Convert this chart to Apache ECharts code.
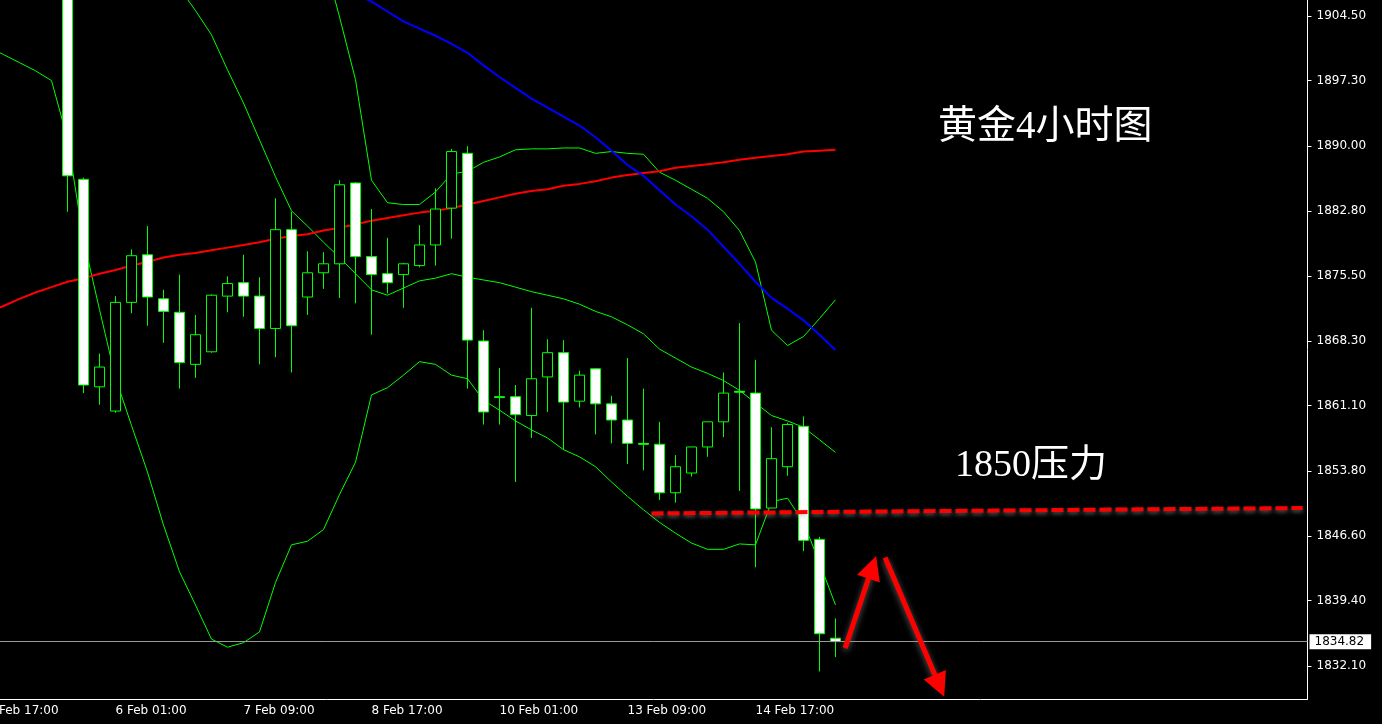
<!DOCTYPE html>
<html>
<head>
<meta charset="utf-8">
<title>黄金4小时图</title>
<script src="https://cdn.jsdelivr.net/npm/echarts@6/dist/echarts.min.js"></script>
<style>
  html, body { margin: 0; padding: 0; background: #000; }
  #gold_chart { width: 1382px; height: 724px; }
</style>
</head>
<body>
<div id="gold_chart"></div>
<script>
// 4 小时 K 线时间 (周末无数据)
const hours = ['01:00', '05:00', '09:00', '13:00', '17:00', '21:00'];
const fullDays = ['3 Feb', '6 Feb', '7 Feb', '8 Feb', '9 Feb', '10 Feb', '13 Feb', '14 Feb'];
const barTimes = ['2 Feb 17:00', '2 Feb 21:00']
  .concat(...fullDays.map(d => hours.map(h => d + ' ' + h)))
  .concat(['15 Feb 01:00', '15 Feb 05:00', '15 Feb 09:00', '15 Feb 13:00']);
const futureSlots = 29;

// [open, close, low, high]; 前 5 根在图表上方，看不到
const candles = [
  null, null, null, null, null,
  [1912.5, 1886.7, 1882.7, 1914.0],
  [1886.3, 1863.4, 1862.5, 1886.5],
  [1863.2, 1865.4, 1861.2, 1866.9],
  [1860.5, 1872.6, 1860.3, 1873.3],
  [1872.6, 1877.8, 1871.4, 1878.5],
  [1877.9, 1873.2, 1870.0, 1881.1],
  [1873.0, 1871.6, 1868.1, 1874.0],
  [1871.5, 1865.9, 1863.0, 1875.7],
  [1865.7, 1869.0, 1864.2, 1871.2],
  [1867.1, 1873.4, 1867.0, 1873.5],
  [1873.3, 1874.7, 1871.5, 1875.5],
  [1874.8, 1873.3, 1871.0, 1877.9],
  [1873.3, 1869.7, 1865.7, 1875.4],
  [1869.7, 1880.7, 1866.5, 1884.2],
  [1880.7, 1870.0, 1864.8, 1882.7],
  [1873.2, 1875.9, 1871.2, 1878.3],
  [1875.9, 1876.9, 1874.1, 1878.2],
  [1876.9, 1885.7, 1873.1, 1886.2],
  [1885.9, 1877.7, 1872.5, 1886.0],
  [1877.7, 1875.7, 1869.0, 1883.0],
  [1875.8, 1874.8, 1873.6, 1879.8],
  [1875.7, 1876.9, 1872.0, 1877.0],
  [1876.7, 1879.0, 1876.5, 1881.2],
  [1879.0, 1883.0, 1876.7, 1885.3],
  [1883.1, 1889.4, 1879.7, 1889.7],
  [1889.2, 1868.4, 1863.0, 1890.0],
  [1868.3, 1860.4, 1859.0, 1869.5],
  [1862.1, 1862.0, 1859.0, 1865.3],
  [1862.1, 1860.1, 1852.6, 1863.4],
  [1860.0, 1864.1, 1857.5, 1872.0],
  [1864.3, 1867.0, 1860.4, 1868.5],
  [1867.0, 1861.5, 1856.2, 1868.4],
  [1861.6, 1864.5, 1860.9, 1865.0],
  [1865.2, 1861.3, 1857.9, 1865.3],
  [1861.3, 1859.5, 1856.9, 1862.2],
  [1859.5, 1856.9, 1854.6, 1866.4],
  [1856.9, 1856.8, 1853.9, 1863.0],
  [1856.8, 1851.4, 1850.6, 1859.3],
  [1851.4, 1854.3, 1850.3, 1855.6],
  [1853.6, 1856.5, 1853.2, 1856.5],
  [1856.5, 1859.3, 1855.4, 1859.3],
  [1859.3, 1862.5, 1857.6, 1864.8],
  [1862.7, 1862.6, 1851.6, 1870.3],
  [1862.5, 1849.6, 1843.1, 1866.2],
  [1849.7, 1855.2, 1849.7, 1858.7],
  [1854.3, 1859.0, 1853.3, 1859.2],
  [1858.8, 1846.1, 1844.9, 1859.9],
  [1846.2, 1835.7, 1831.5, 1846.5],
  [1835.2, 1834.82, 1833.1, 1837.4]
];

// 均线 (红 / 蓝)
const maRed = [
  1871.5, 1872.2, 1873.0, 1873.7, 1874.3, 1874.9, 1875.3, 1875.8, 1876.2, 1876.7,
  1877.1, 1877.6, 1877.9, 1878.1, 1878.4, 1878.7, 1879.0, 1879.3, 1879.7, 1880.0,
  1880.2, 1880.6, 1880.9, 1881.3, 1881.7, 1882.0, 1882.3, 1882.6, 1882.8, 1883.1,
  1883.5, 1883.9, 1884.3, 1884.7, 1885.0, 1885.2, 1885.6, 1885.8, 1886.1, 1886.5,
  1886.8, 1887.0, 1887.2, 1887.6, 1887.8, 1888.0, 1888.2, 1888.5, 1888.7, 1888.9,
  1889.1, 1889.4, 1889.5, 1889.6
];
const maBlue = [
  null, null, null, null, null, null, null, null, null, null,
  null, null, null, null, null, null, null, null, null, null,
  null, null, 1908.0, 1907.0, 1906.1, 1905.0, 1903.9, 1903.1, 1902.3, 1901.4,
  1900.4, 1899.0, 1897.7, 1896.5, 1895.3, 1894.3, 1893.3, 1892.3, 1891.0, 1889.5,
  1887.9, 1886.7, 1885.1, 1883.5, 1882.2, 1880.7, 1878.8, 1876.9, 1874.9, 1873.1,
  1871.9, 1870.6, 1869.0, 1867.3
];

// 布林带
const bollUpper = [
  null, null, null, null, null, null, null, null, null, null,
  null, null, null, null, null, null, null, null, null, null,
  1917.4, 1911.1, 1904.4, 1897.4, 1886.2, 1883.7, 1883.5, 1883.5, 1884.9, 1886.9,
  1887.2, 1888.2, 1888.8, 1889.6, 1889.7, 1889.7, 1889.8, 1889.8, 1889.2, 1889.4,
  1889.2, 1889.1, 1887.1, 1886.2, 1885.2, 1884.2, 1882.7, 1880.6, 1877.1, 1869.5,
  1867.8, 1868.8, 1870.8, 1872.9
];
const bollMiddle = [
  null, null, null, null, null, null, null, null, null, null,
  1913.0, 1910.3, 1907.6, 1905.1, 1902.4, 1898.5, 1894.8, 1890.7, 1886.6, 1882.8,
  1881.1, 1879.3, 1877.6, 1875.8, 1874.0, 1873.4, 1874.2, 1875.0, 1875.3, 1875.8,
  1875.4, 1875.1, 1874.8, 1874.3, 1873.8, 1873.4, 1873.0, 1872.4, 1871.6, 1871.0,
  1870.1, 1869.1, 1867.4, 1866.4, 1865.4, 1864.7, 1863.9, 1862.8, 1861.4, 1860.0,
  1859.4, 1858.7, 1857.3, 1855.9
];
const bollLower = [
  1901.1, 1900.2, 1899.3, 1898.4, 1897.3, 1890.8, 1879.6, 1871.8, 1864.2, 1858.9,
  1853.7, 1847.8, 1842.6, 1838.9, 1835.1, 1834.2, 1834.7, 1835.9, 1841.4, 1845.6,
  1846.0, 1847.3, 1851.2, 1854.8, 1862.3, 1863.1, 1864.5, 1866.0, 1865.7, 1864.5,
  1864.1, 1861.7, 1860.6, 1859.4, 1858.4, 1857.5, 1856.2, 1855.4, 1854.3, 1852.6,
  1851.0, 1849.5, 1848.1, 1846.9, 1845.8, 1845.1, 1845.1, 1845.7, 1845.6, 1850.4,
  1850.8, 1848.1, 1843.6, 1838.9
];

const priceTicks = [1832.10, 1839.40, 1846.60, 1853.80, 1861.10, 1868.30, 1875.50, 1882.80, 1890.00, 1897.30, 1904.50];
const lastPrice = 1834.82;

// 手画的标注, [bar 序号, 价格]
const pressureLine = [[41.5, 1849.1], [82.2, 1849.7]];
const arrowUp = [[53.6, 1834.1], [55.3, 1843.1]];
const arrowDown = [[56.1, 1844.2], [59.5, 1829.9]];

const slotCount = barTimes.length + futureSlots;
const categories = barTimes.concat(new Array(futureSlots).fill(''));
const gap = v => (v == null ? '-' : v);
const showTime = idx => idx % 8 === 0 && idx < barTimes.length;

const myChart = echarts.init(document.getElementById('gold_chart'));

const option = {
  backgroundColor: '#000',
  animation: false,
  grid: {
    left: -20.5, top: 0, width: slotCount * 16, height: 699,
    outerBoundsMode: 'none', containLabel: false
  },
  xAxis: [
    {
      type: 'category',
      data: categories,
      boundaryGap: true,
      axisLine: { onZero: false, lineStyle: { color: '#fff', width: 1 } },
      axisTick: { alignWithLabel: true, interval: showTime, length: 4, lineStyle: { color: '#fff' } },
      axisLabel: {
        interval: showTime,
        align: 'left',
        margin: 6,
        color: '#fff',
        fontSize: 12,
        fontFamily: 'DejaVu Sans'
      },
      splitLine: { show: false }
    },
    { type: 'value', min: -0.5, max: slotCount - 0.5, show: false }
  ],
  yAxis: {
    type: 'value',
    position: 'right',
    min: 1828.43,
    max: 1906.28,
    scale: true,
    axisLine: { show: true, onZero: false, lineStyle: { color: '#fff', width: 1 } },
    axisTick: { show: true, length: 4, customValues: priceTicks, lineStyle: { color: '#fff' } },
    axisLabel: {
      customValues: priceTicks,
      formatter: v => v.toFixed(2),
      margin: 9,
      color: '#fff',
      fontSize: 12,
      fontFamily: 'DejaVu Sans'
    },
    splitLine: { show: false }
  },
  graphic: [
    {
      type: 'text', x: 938, y: 128, silent: true,
      style: { text: '黄金4小时图', fill: '#fff', font: '39px "Liberation Serif", "Noto Sans CJK SC"', verticalAlign: 'middle' }
    },
    {
      type: 'text', x: 955, y: 466, silent: true,
      style: { text: '1850压力', fill: '#fff', font: '38px "Liberation Serif", "Noto Sans CJK SC"', verticalAlign: 'middle' }
    }
  ],
  series: [
    {
      name: 'bollUpper', type: 'line', data: bollUpper.map(gap), symbol: 'none',
      lineStyle: { color: '#00ff00', width: 1 }, z: 2
    },
    {
      name: 'bollMiddle', type: 'line', data: bollMiddle.map(gap), symbol: 'none',
      lineStyle: { color: '#00ff00', width: 1 }, z: 2
    },
    {
      name: 'bollLower', type: 'line', data: bollLower.map(gap), symbol: 'none',
      lineStyle: { color: '#00ff00', width: 1 }, z: 2
    },
    {
      name: 'maRed', type: 'line', data: maRed.map(gap), symbol: 'none',
      lineStyle: { color: '#ff0000', width: 2 }, z: 3
    },
    {
      name: 'maBlue', type: 'line', data: maBlue.map(gap), symbol: 'none',
      lineStyle: { color: '#0000ff', width: 2 }, z: 3
    },
    {
      name: 'XAUUSD', type: 'candlestick',
      data: candles.map(c => (c ? c : ['-', '-', '-', '-'])),
      barWidth: 10,
      clip: true,
      itemStyle: {
        color: '#000', color0: '#fff',
        borderColor: '#00ff00', borderColor0: '#00ff00', borderWidth: 1
      },
      markLine: {
        silent: true,
        symbol: 'none',
        lineStyle: { color: '#9a9a9a', width: 1, type: 'solid' },
        label: {
          show: true, position: 'end', distance: 2,
          formatter: lastPrice.toFixed(2),
          color: '#000', backgroundColor: '#fff',
          padding: [2, 7, 1, 5], fontSize: 12, fontFamily: 'DejaVu Sans'
        },
        data: [{ yAxis: lastPrice }]
      },
      z: 4
    },
    {
      name: 'pressure', type: 'line', xAxisIndex: 1,
      data: pressureLine, symbol: 'none',
      lineStyle: {
        color: '#ff0000', width: 4, type: [12, 4],
        shadowColor: 'rgba(170,170,170,0.5)', shadowBlur: 4, shadowOffsetY: 2
      },
      markLine: {
        silent: true,
        symbol: ['none', 'triangle'],
        symbolSize: [24, 24],
        label: { show: false },
        lineStyle: {
          color: '#ff0000', width: 5, type: 'solid',
          shadowColor: 'rgba(150,150,150,0.6)', shadowBlur: 6, shadowOffsetY: 2
        },
        itemStyle: { color: '#ff0000' },
        data: [
          [{ coord: arrowUp[0] }, { coord: arrowUp[1] }],
          [{ coord: arrowDown[0] }, { coord: arrowDown[1] }]
        ]
      },
      z: 5
    }
  ]
};

myChart.setOption(option);
</script>
</body>
</html>
